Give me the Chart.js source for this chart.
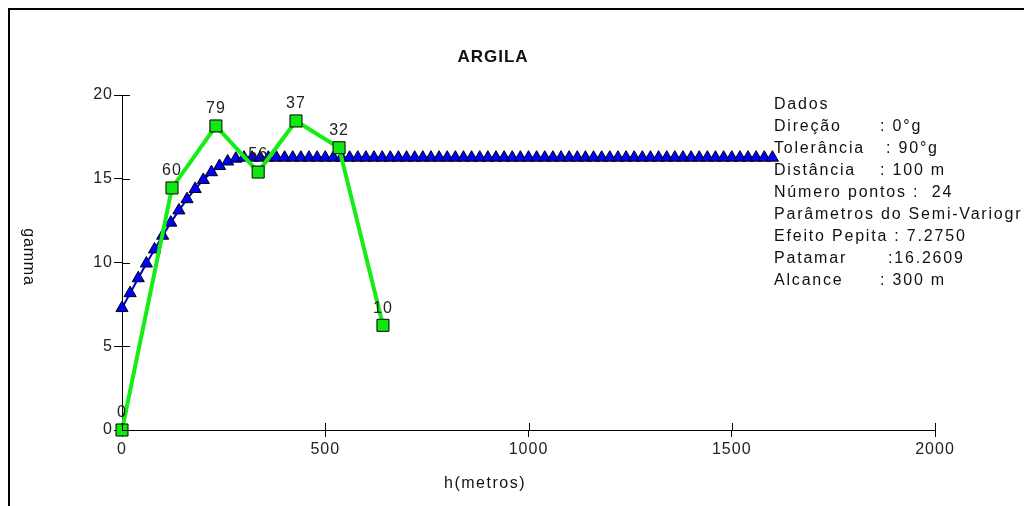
<!DOCTYPE html>
<html>
<head>
<meta charset="utf-8">
<script src="https://cdn.jsdelivr.net/npm/chart.js@4.4.1/dist/chart.umd.min.js"></script>
<style>
  html, body { margin: 0; padding: 0; background: #fff; }
  canvas { display: block; }
</style>
</head>
<body>
<canvas id="chart" width="1024" height="506"></canvas>
<script>
// experimental semivariogram (green) and fitted model (blue)
const lagH = [0, 123, 231, 335, 428, 534, 642];
const lagGamma = [0, 14.45, 18.15, 15.4, 18.45, 16.85, 6.25];
const lagPairs = [0, 60, 79, 56, 37, 32, 10];

const modelH = [
    0, 20, 40, 60, 80, 100, 120, 140, 160, 180, 200, 220, 240, 260, 280,
    300, 320, 340, 360, 380, 400, 420, 440, 460, 480, 500, 520, 540, 560, 580,
    600, 620, 640, 660, 680, 700, 720, 740, 760, 780, 800, 820, 840, 860, 880,
    900, 920, 940, 960, 980, 1000, 1020, 1040, 1060, 1080, 1100, 1120, 1140, 1160, 1180,
    1200, 1220, 1240, 1260, 1280, 1300, 1320, 1340, 1360, 1380, 1400, 1420, 1440, 1460, 1480,
    1500, 1520, 1540, 1560, 1580, 1600
];
const modelGamma = [
    7.28, 8.17, 9.06, 9.94, 10.78, 11.60, 12.38, 13.11, 13.78, 14.39, 14.93, 15.39, 15.76, 16.03, 16.20,
    16.26, 16.26, 16.26, 16.26, 16.26, 16.26, 16.26, 16.26, 16.26, 16.26, 16.26, 16.26, 16.26, 16.26, 16.26,
    16.26, 16.26, 16.26, 16.26, 16.26, 16.26, 16.26, 16.26, 16.26, 16.26, 16.26, 16.26, 16.26, 16.26, 16.26,
    16.26, 16.26, 16.26, 16.26, 16.26, 16.26, 16.26, 16.26, 16.26, 16.26, 16.26, 16.26, 16.26, 16.26, 16.26,
    16.26, 16.26, 16.26, 16.26, 16.26, 16.26, 16.26, 16.26, 16.26, 16.26, 16.26, 16.26, 16.26, 16.26, 16.26,
    16.26, 16.26, 16.26, 16.26, 16.26, 16.26
];

const xTicks = [0, 500, 1000, 1500, 2000];
const yTicks = [0, 5, 10, 15, 20];

const infoLines = [
    ['Dados', ''],
    ['Direção', ': 0°g', 880],
    ['Tolerância', ': 90°g', 886],
    ['Distância', ': 100 m', 880],
    ['Número pontos :  24', ''],
    ['Parâmetros do Semi-Variograma', ''],
    ['Efeito Pepita : 7.2750', ''],
    ['Patamar', ':16.2609', 888],
    ['Alcance', ': 300 m', 880]
];

const FONT = '"Liberation Sans", Arial, sans-serif';

const extras = {
    id: 'extras',
    beforeDraw(chart) {
        chart.ctx.letterSpacing = '1px';
    },
    afterDraw(chart) {
        const ctx = chart.ctx;
        const area = chart.chartArea;
        const xs = chart.scales.x, ys = chart.scales.y;
        ctx.save();

        // frame
        ctx.strokeStyle = '#000';
        ctx.lineWidth = 2;
        ctx.beginPath();
        ctx.moveTo(1024, 9);
        ctx.lineTo(9, 9);
        ctx.lineTo(9, 506);
        ctx.stroke();

        // inner halves of tick marks
        ctx.lineWidth = 1;
        ctx.beginPath();
        yTicks.forEach(v => {
            const py = Math.round(ys.getPixelForValue(v)) + 0.5;
            ctx.moveTo(area.left, py);
            ctx.lineTo(area.left + 8, py);
        });
        xTicks.forEach(v => {
            const px = Math.round(xs.getPixelForValue(v)) + 0.5;
            ctx.moveTo(px, area.bottom);
            ctx.lineTo(px, area.bottom - 7);
        });
        ctx.stroke();

        // titles
        ctx.fillStyle = '#111';
        ctx.textAlign = 'center';
        ctx.textBaseline = 'middle';
        ctx.letterSpacing = '1px';
        ctx.font = 'bold 17px ' + FONT;
        ctx.fillText('ARGILA', 493, 57);
        ctx.font = '16px ' + FONT;
        ctx.letterSpacing = '1.5px';
        ctx.fillText('h(metros)', 485, 484);
        ctx.save();
        ctx.translate(28, 257);
        ctx.rotate(Math.PI / 2);
        ctx.letterSpacing = '0.8px';
        ctx.fillText('gamma', 0, 0);
        ctx.restore();

        // pair counts above experimental points
        ctx.letterSpacing = '1px';
        ctx.fillStyle = '#222';
        const meta = chart.getDatasetMeta(0);
        meta.data.forEach((pt, i) => {
            ctx.fillText(String(lagPairs[i]), pt.x, pt.y - 17);
        });

        // info block
        ctx.beginPath();
        ctx.rect(0, 0, 1021, 506);
        ctx.clip();
        ctx.textAlign = 'left';
        ctx.font = '16px ' + FONT;
        ctx.letterSpacing = '1.8px';
        ctx.fillStyle = '#111';
        infoLines.forEach((ln, i) => {
            const y = 105 + 22 * i;
            ctx.fillText(ln[0], 774, y);
            if (ln[1]) ctx.fillText(ln[1], ln[2], y);
        });
        ctx.restore();
    }
};

new Chart(document.getElementById('chart'), {
    type: 'scatter',
    data: {
        datasets: [{
            data: lagH.map((h, i) => ({ x: h, y: lagGamma[i] })),
            showLine: true,
            borderColor: '#14ee14',
            borderWidth: 4,
            pointStyle: 'rect',
            pointRadius: 8.5,
            pointBackgroundColor: '#10e810',
            pointBorderColor: '#000',
            pointBorderWidth: 1,
            clip: false
        }, {
            data: modelH.map((h, i) => ({ x: h, y: modelGamma[i] })),
            showLine: true,
            borderColor: '#0000c0',
            borderWidth: 2,
            pointStyle: 'triangle',
            pointRadius: 7,
            pointBackgroundColor: '#0000ff',
            pointBorderColor: '#000',
            pointBorderWidth: 1,
            clip: false
        }]
    },
    options: {
        responsive: false,
        animation: false,
        events: [],
        plugins: {
            legend: { display: false },
            tooltip: { enabled: false }
        },
        layout: {
            padding: { left: 82, right: 89, top: 95, bottom: 46 }
        },
        scales: {
            x: {
                type: 'linear',
                min: 0,
                max: 2000,
                afterFit: s => { s.height = 30; },
                afterBuildTicks: s => { s.ticks = xTicks.map(v => ({ value: v })); },
                grid: { drawOnChartArea: false, color: '#000', tickLength: 7 },
                border: { display: true, color: '#000', width: 1 },
                ticks: {
                    color: '#222', padding: 3, maxRotation: 0,
                    font: { family: FONT, size: 16 },
                    callback: v => String(v)
                }
            },
            y: {
                type: 'linear',
                min: 0,
                max: 20,
                afterFit: s => { s.width = 40; },
                afterBuildTicks: s => { s.ticks = yTicks.map(v => ({ value: v })); },
                grid: { drawOnChartArea: false, color: '#000', tickLength: 8 },
                border: { display: true, color: '#000', width: 1 },
                ticks: {
                    color: '#222', padding: 1,
                    font: { family: FONT, size: 16 },
                    callback: v => String(v)
                }
            }
        }
    },
    plugins: [extras]
});
</script>
</body>
</html>
